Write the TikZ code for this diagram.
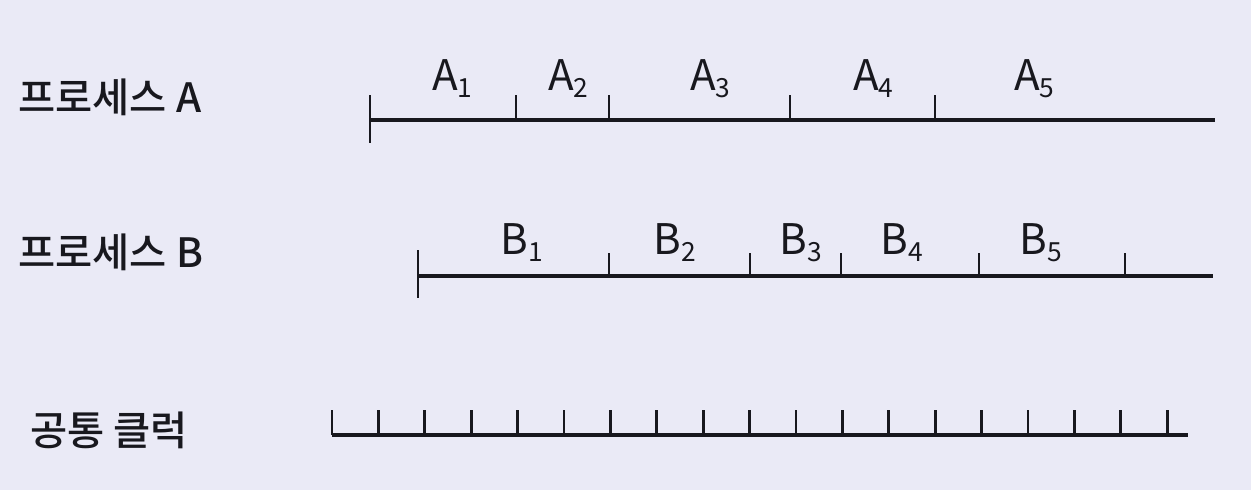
\documentclass[tikz,border=0pt]{standalone}
\usepackage{fontspec}
\setmainfont{Noto Sans CJK KR Medium}
\newfontfamily\seglabelfont{Noto Sans CJK KR}
\usetikzlibrary{positioning}
\definecolor{paper}{RGB}{234,234,246}
\definecolor{ink}{RGB}{24,24,30}
\newcommand{\sub}[1]{\raisebox{-0.17em}{\fontsize{15}{15}\selectfont#1}}

\begin{document}
\begin{tikzpicture}[x=0.02cm,y=-0.02cm,
    axis/.style={draw=ink,line width=2pt},
    tickmark/.style={draw=ink,line width=1.5pt},
    rowlabel/.style={anchor=west,inner sep=0pt,text=ink,
      font=\fontsize{23}{26}\selectfont},
    seglabel/.style={anchor=base west,inner sep=0pt,text=ink,
      font=\seglabelfont\fontsize{24}{28}\selectfont}]
  \fill[paper] (0,0) rectangle (1251,490);
  \useasboundingbox (0,0) rectangle (1251,490);

  % process A
  \node[rowlabel] (procA) at (18,97) {프로세스 A};
  \coordinate (astart) at (370,120);
  \coordinate (aend) at (1215,120);
  \draw[axis] (astart) -- (aend);
  \draw[tickmark] (370,95) -- (370,143);
  \foreach \x in {516,609,790,935}
    \draw[tickmark] (\x,95) -- (\x,120);
  \foreach \x/\n in {432/1,548/2,690/3,853/4,1014/5}
    \node[seglabel] (A\n) at (\x,90) {A\sub{\n}};

  % process B
  \node[rowlabel] (procB) at (18,252) {프로세스 B};
  \coordinate (bstart) at (418,276);
  \coordinate (bend) at (1213,276);
  \draw[axis] (bstart) -- (bend);
  \draw[tickmark] (418,250) -- (418,298);
  \foreach \x in {609,750,841,979,1125}
    \draw[tickmark] (\x,253) -- (\x,276);
  \foreach \x/\n in {500/1,653/2,779/3,880/4,1019/5}
    \node[seglabel] (B\n) at (\x,254) {B\sub{\n}};

  % common clock
  \node[rowlabel] (clock) at (30,430) {공통 클럭};
  \coordinate (cstart) at (332,435);
  \coordinate (cend) at (1188,435);
  \draw[axis] (cstart) -- (cend);
  \foreach \k in {0,...,18}
    \draw[tickmark] (332+46.4*\k,410) -- (332+46.4*\k,435);
\end{tikzpicture}
\end{document}
